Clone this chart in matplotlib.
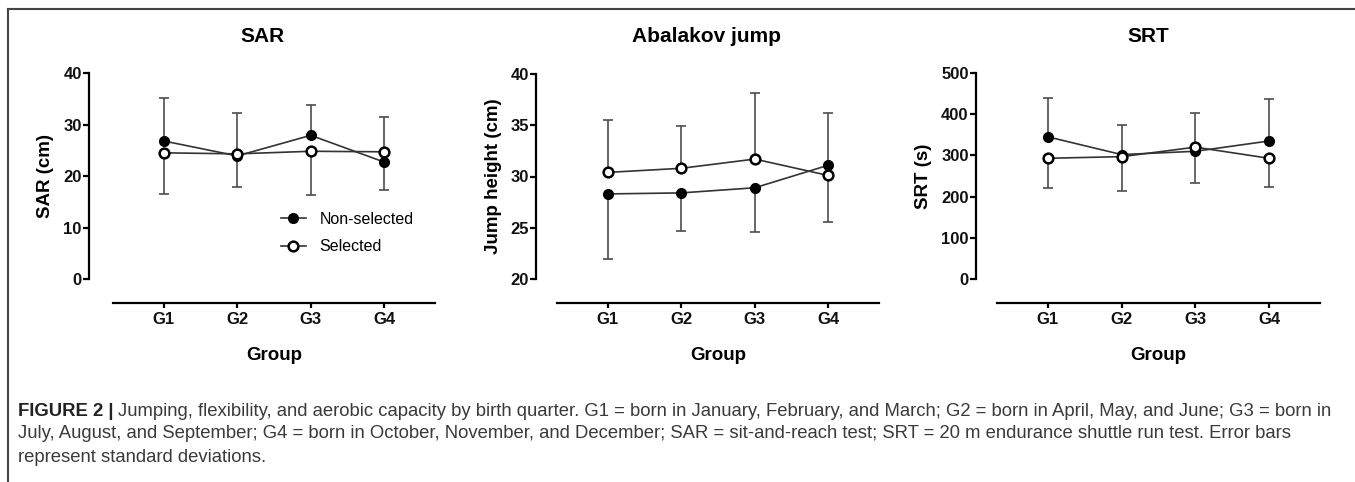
import numpy as np
import matplotlib
matplotlib.use("Agg")
import matplotlib.pyplot as plt
from matplotlib.lines import Line2D

plt.rcParams['font.family'] = ['Liberation Sans', 'DejaVu Sans']

# data
groups = ["G1", "G2", "G3", "G4"]

sar_non = [26.8, 23.9, 27.9, 22.7]
sar_non_sd = [8.3, 6.0, 5.8, 5.5]
sar_sel = [24.5, 24.3, 24.8, 24.7]
sar_sel_sd = [7.9, 8.0, 8.5, 6.7]

jump_non = [28.3, 28.4, 28.9, 31.1]
jump_non_sd = [6.3, 3.7, 4.3, 5.1]
jump_sel = [30.4, 30.8, 31.7, 30.1]
jump_sel_sd = [5.1, 4.1, 6.4, 4.5]

srt_non = [345, 302, 310, 335]
srt_non_sd = [95, 71, 77, 103]
srt_sel = [293, 297, 320, 293]
srt_sel_sd = [73, 84, 83, 70]

W, H = 1355, 482
fig = plt.figure(figsize=(W / 100, H / 100), dpi=100)


def px(x, y):
    return x / W, 1 - y / H


def panel(box, ylim, yticks, non, non_sd, sel, sel_sd, title, tx, ylab, ylx, spine_off):
    l, t, r, b = box
    ax = fig.add_axes([l / W, 1 - b / H, (r - l) / W, (b - t) / H])
    x = np.arange(1, 5)
    non = np.array(non, float)
    sel = np.array(sel, float)
    non_sd = np.array(non_sd, float)
    sel_sd = np.array(sel_sd, float)
    # the higher series gets the upper bar, the lower one the lower bar
    non_up = non >= sel
    top = np.where(non_up, non + non_sd, sel + sel_sd)
    bot = np.where(non_up, sel - sel_sd, non - non_sd)
    hi = np.where(non_up, non, sel)
    lo = np.where(non_up, sel, non)
    ec = '#4d4d4d'
    ax.vlines(x, hi, top, color=ec, lw=1.2, zorder=1)
    ax.vlines(x, bot, lo, color=ec, lw=1.2, zorder=1)
    ax.plot(x, top, ls='none', marker='_', ms=7, mew=1.2, color=ec, zorder=1)
    ax.plot(x, bot, ls='none', marker='_', ms=7, mew=1.2, color=ec, zorder=1)

    ax.plot(x, non, color='#333333', lw=1.2, marker='o', ms=7, mfc='black', mec='black',
            zorder=3, label='Non-selected')
    ax.plot(x, sel, color='#333333', lw=1.2, marker='o', ms=7, mfc='white', mec='black',
            mew=1.8, zorder=3, label='Selected')

    ax.set_xlim(0.31, 4.69)
    ax.set_ylim(*ylim)
    ax.set_yticks(yticks)
    ax.set_xticks(x)
    ax.set_xticklabels(groups)
    for s in ['top', 'right']:
        ax.spines[s].set_visible(False)
    ax.spines['left'].set_position(('outward', spine_off * 0.72))
    ax.spines['bottom'].set_position(('outward', 24 * 0.72))
    for s in ['left', 'bottom']:
        ax.spines[s].set_linewidth(1.6)
    ax.tick_params(axis='y', length=4.3, width=1.6, pad=1)
    ax.tick_params(axis='x', length=3.6, width=1.6, pad=3)
    for lab in ax.get_xticklabels() + ax.get_yticklabels():
        lab.set_fontweight('bold')
        lab.set_fontsize(12)
        lab.set_color('#111111')
    ax.patch.set_alpha(0)

    fig.text(*px(tx, 36), title, ha='center', va='center', fontsize=15, fontweight='bold')
    fig.text(*px(ylx, 176), ylab, ha='center', va='center', rotation=90,
             fontsize=13.5, fontweight='bold')
    fig.text(*px((l + r) / 2, 355), "Group", ha='center', va='center',
             fontsize=13.5, fontweight='bold')
    return ax


ax1 = panel((113, 73, 435, 279), (0, 40), [0, 10, 20, 30, 40],
            sar_non, sar_non_sd, sar_sel, sar_sel_sd, "SAR", 262, "SAR (cm)", 45, 24)
ax2 = panel((557, 74, 879, 279), (20, 40), [20, 25, 30, 35, 40],
            jump_non, jump_non_sd, jump_sel, jump_sel_sd, "Abalakov jump", 707,
            "Jump height (cm)", 493, 21)
ax3 = panel((997, 73, 1320, 279), (0, 500), [0, 100, 200, 300, 400, 500],
            srt_non, srt_non_sd, srt_sel, srt_sel_sd, "SRT", 1148, "SRT (s)", 924, 21)

ax1.legend(loc='upper left', bbox_to_anchor=px(281, 212), bbox_transform=fig.transFigure,
           frameon=False, fontsize=11.5, borderpad=0, borderaxespad=0,
           handlelength=1.55, handletextpad=0.85, labelspacing=0.78)

# frame lines around the figure
fig.add_artist(Line2D([8 / W, 8 / W], [0, 1 - 9 / H], color='#444444', lw=1.5))
fig.add_artist(Line2D([8 / W, 1], [1 - 9 / H, 1 - 9 / H], color='#444444', lw=1.5))

# caption
cap = ["Jumping, flexibility, and aerobic capacity by birth quarter. G1 = born in January, "
       "February, and March; G2 = born in April, May, and June; G3 = born in",
       "July, August, and September; G4 = born in October, November, and December; "
       "SAR = sit-and-reach test; SRT = 20 m endurance shuttle run test. Error bars",
       "represent standard deviations."]
cs = 13.3
b = fig.text(*px(18, 411), "FIGURE 2 |", ha='left', va='center', fontsize=cs,
             fontweight='bold', color='#222222')
fig.canvas.draw()
bb = b.get_window_extent()
fig.text(bb.x1 / W + 4 / W, 1 - 411 / H, cap[0], ha='left', va='center', fontsize=cs,
         color='#3a3a3a')
fig.text(*px(18, 434), cap[1], ha='left', va='center', fontsize=cs, color='#3a3a3a')
fig.text(*px(18, 457), cap[2], ha='left', va='center', fontsize=cs, color='#3a3a3a')

fig.savefig("out.png", dpi=100)
